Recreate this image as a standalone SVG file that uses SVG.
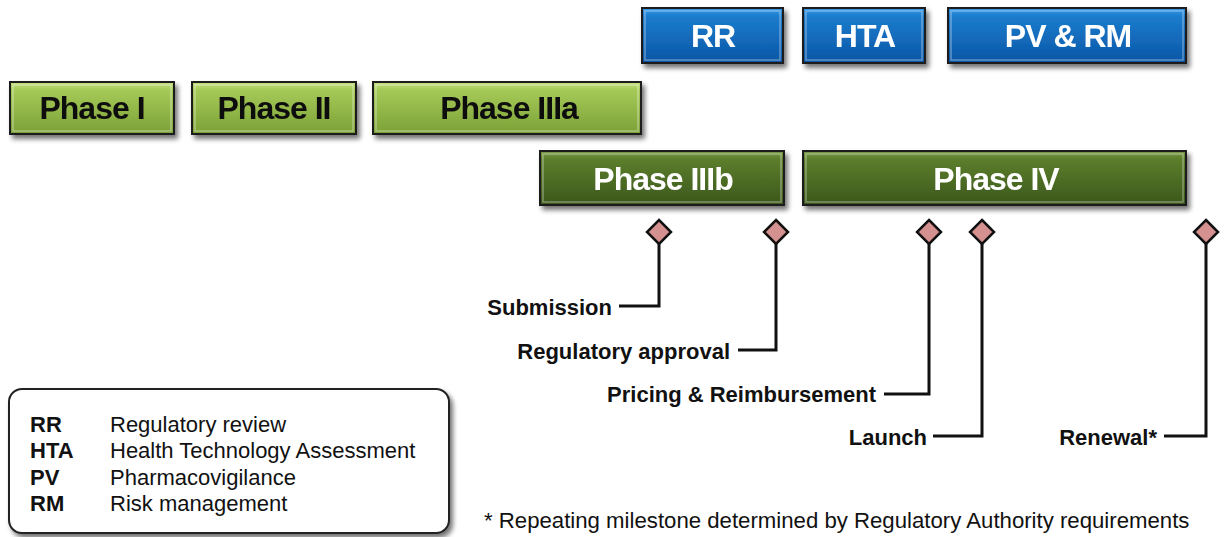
<svg xmlns="http://www.w3.org/2000/svg" width="1224" height="537" viewBox="0 0 1224 537">
<defs>
<linearGradient id="gBlue" x1="0" y1="0" x2="0" y2="1">
<stop offset="0" stop-color="#3a9be8"/><stop offset="0.15" stop-color="#1c7ccd"/><stop offset="1" stop-color="#0a56a6"/>
</linearGradient>
<linearGradient id="gLight" x1="0" y1="0" x2="0" y2="1">
<stop offset="0" stop-color="#c6e082"/><stop offset="0.15" stop-color="#a6ca58"/><stop offset="1" stop-color="#7ba036"/>
</linearGradient>
<linearGradient id="gDark" x1="0" y1="0" x2="0" y2="1">
<stop offset="0" stop-color="#7a9c45"/><stop offset="0.15" stop-color="#5c7e2c"/><stop offset="1" stop-color="#3b571b"/>
</linearGradient>
<filter id="sh" x="-10%" y="-20%" width="125%" height="150%">
<feGaussianBlur in="SourceAlpha" stdDeviation="2.5"/>
<feOffset dx="3" dy="4" result="b"/>
<feComponentTransfer><feFuncA type="linear" slope="0.55"/></feComponentTransfer>
<feMerge><feMergeNode/><feMergeNode in="SourceGraphic"/></feMerge>
</filter>
</defs>
<style>
.box{stroke:#1a1a1a;stroke-width:2}
.hl{fill:none;stroke:#ffffff;stroke-opacity:0.35;stroke-width:1.5}
.t{font-family:"Liberation Sans",Arial,sans-serif;font-weight:bold;font-size:32px;letter-spacing:-1px;text-anchor:middle}
.w{fill:#ffffff}
.k{fill:#111111}
.lbl{font-family:"Liberation Sans",Arial,sans-serif;font-weight:bold;font-size:22px;fill:#111;text-anchor:end}
.leg{font-family:"Liberation Sans",Arial,sans-serif;font-size:22px;fill:#111}
.foot{font-family:"Liberation Sans",Arial,sans-serif;font-size:22.2px;fill:#111}
.legb{font-family:"Liberation Sans",Arial,sans-serif;font-size:22px;font-weight:bold;fill:#111}
.con{fill:none;stroke:#111;stroke-width:3}
.dia{fill:#d4918f;stroke:#111;stroke-width:2.5}
</style>

<g id="RR" filter="url(#sh)"><rect class="box" x="642" y="8" width="141" height="55" fill="url(#gBlue)"/><rect class="hl" x="645" y="11" width="135" height="49"/><text class="t w" x="713" y="47">RR</text></g>
<g id="HTA" filter="url(#sh)"><rect class="box" x="803" y="8" width="122" height="55" fill="url(#gBlue)"/><rect class="hl" x="806" y="11" width="116" height="49"/><text class="t w" x="865" y="47">HTA</text></g>
<g id="PVRM" filter="url(#sh)"><rect class="box" x="948" y="8" width="238" height="55" fill="url(#gBlue)"/><rect class="hl" x="951" y="11" width="232" height="49"/><text class="t w" x="1068" y="47">PV &amp; RM</text></g>

<g id="Phase1" filter="url(#sh)"><rect class="box" x="10" y="82" width="164" height="52" fill="url(#gLight)"/><rect class="hl" x="13" y="85" width="158" height="46"/><text class="t k" x="92" y="119">Phase I</text></g>
<g id="Phase2" filter="url(#sh)"><rect class="box" x="192" y="82" width="164" height="52" fill="url(#gLight)"/><rect class="hl" x="195" y="85" width="158" height="46"/><text class="t k" x="274" y="119">Phase II</text></g>
<g id="Phase3a" filter="url(#sh)"><rect class="box" x="373" y="82" width="268" height="52" fill="url(#gLight)"/><rect class="hl" x="376" y="85" width="262" height="46"/><text class="t k" x="509" y="119">Phase IIIa</text></g>

<g id="Phase3b" filter="url(#sh)"><rect class="box" x="540" y="151" width="244" height="54" fill="url(#gDark)"/><rect class="hl" x="543" y="154" width="238" height="48"/><text class="t w" x="663" y="190">Phase IIIb</text></g>
<g id="Phase4" filter="url(#sh)"><rect class="box" x="803" y="151" width="383" height="54" fill="url(#gDark)"/><rect class="hl" x="806" y="154" width="377" height="48"/><text class="t w" x="996" y="190">Phase IV</text></g>

<g id="connectors">
<path class="con" d="M659,244 V306 H619"/>
<path class="con" d="M776,244 V350 H738"/>
<path class="con" d="M929,244 V394 H884"/>
<path class="con" d="M982,244 V436 H933"/>
<path class="con" d="M1206,244 V436 H1164"/>
</g>

<g id="m-submission"><path class="dia" d="M659,220 L671,232 L659,244 L647,232 Z"/><text class="lbl" x="612" y="315">Submission</text></g>
<g id="m-approval"><path class="dia" d="M776,220 L788,232 L776,244 L764,232 Z"/><text class="lbl" x="730" y="359">Regulatory approval</text></g>
<g id="m-pricing"><path class="dia" d="M929,220 L941,232 L929,244 L917,232 Z"/><text class="lbl" x="876" y="402">Pricing &amp; Reimbursement</text></g>
<g id="m-launch"><path class="dia" d="M982,220 L994,232 L982,244 L970,232 Z"/><text class="lbl" x="927" y="445">Launch</text></g>
<g id="m-renewal"><path class="dia" d="M1206,220 L1218,232 L1206,244 L1194,232 Z"/><text class="lbl" x="1157" y="445">Renewal*</text></g>

<g id="legend">
<rect x="9" y="389" width="440" height="144" rx="13" ry="13" fill="#ffffff" stroke="#222" stroke-width="2" filter="url(#sh)"/>
<text class="legb" x="30" y="432">RR</text><text class="leg" x="110" y="432">Regulatory review</text>
<text class="legb" x="30" y="458">HTA</text><text class="leg" x="110" y="458">Health Technology Assessment</text>
<text class="legb" x="30" y="485">PV</text><text class="leg" x="110" y="485">Pharmacovigilance</text>
<text class="legb" x="30" y="511">RM</text><text class="leg" x="110" y="511">Risk management</text>
</g>

<text class="foot" x="484" y="528">* Repeating milestone determined by Regulatory Authority requirements</text>
</svg>
